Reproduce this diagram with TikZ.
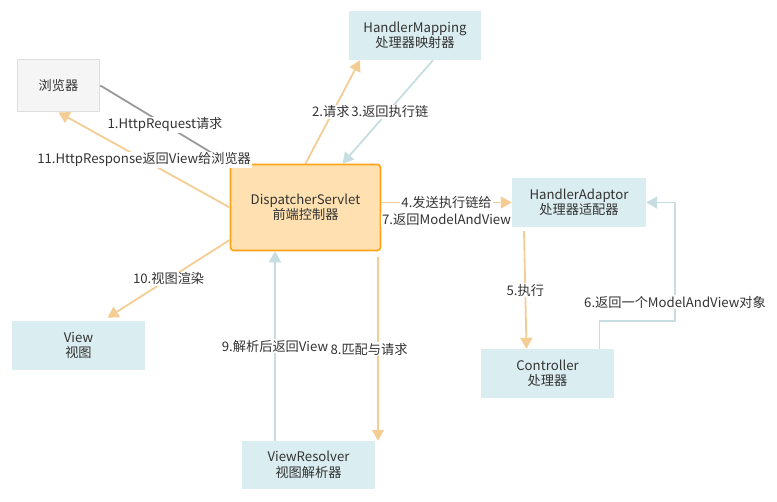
\documentclass[tikz,border=0pt]{standalone}
\usepackage{fontspec}
\setmainfont{Noto Sans CJK SC}
\usepackage{xcolor}
\usetikzlibrary{
  arrows.meta,
  positioning
}
\definecolor{boxblue}{HTML}{DAEDF0}
\definecolor{servletfill}{HTML}{FFE0B0}
\definecolor{servletline}{HTML}{FFA31A}
\definecolor{fwdline}{HTML}{F3CD93}
\definecolor{backline}{HTML}{C6DDE1}
\definecolor{txt}{HTML}{333333}

\begin{document}
\begin{tikzpicture}[x=1pt, y=-1pt,
    every node/.style = {text=txt, align=center,
      font=\fontsize{13.2}{15.5}\selectfont},
    box/.style = {shape=rectangle, fill=boxblue,
      minimum width=133pt, minimum height=49pt},
    servlet/.style = {box, fill=servletfill, draw=servletline,
      line width=1.6pt, rounded corners=3pt,
      minimum width=150pt, minimum height=86pt},
    browserbox/.style = {box, fill=black!4, draw=black!13,
      line width=1.6pt, minimum width=82pt, minimum height=52pt},
    lbl/.style = {fill=white, inner sep=1pt},
    fwd/.style = {draw=fwdline, line width=1.8pt,
      -{Triangle[length=11pt,width=12pt]}},
    back/.style = {fwd, draw=backline}]
  \useasboundingbox (0,0) rectangle (777,502);

  % boxes
  \node[browserbox] (browser) at (58.5,85.5) {浏览器};
  \node[box, minimum width=132pt] (mapping) at (415,35.5)
    {HandlerMapping\\处理器映射器};
  \node[servlet] (dispatcher) at (305.5,207.5)
    {DispatcherServlet\\前端控制器};
  \node[box, minimum width=134pt] (adaptor) at (579,202.5)
    {HandlerAdaptor\\处理器适配器};
  \node[box] (controller) at (547.5,373.5) {Controller\\处理器};
  \node[box] (view) at (78.5,345.5) {View\\视图};
  \node[box, minimum height=48pt] (resolver) at (308.5,465)
    {ViewResolver\\视图解析器};
  \coordinate (turn) at (675,321);

  % request / response with the browser
  \draw[fwd, draw=black!40] (browser.east) --
    node[lbl] {1.HttpRequest请求} (dispatcher.north west);
  \draw[fwd] (dispatcher.west) --
    node[lbl] {11.HttpResponse返回View给浏览器} (browser.south);

  % handler mapping
  \draw[fwd] (dispatcher.north) --
    node[lbl, xshift=-2pt] {2.请求} ([xshift=-55pt]mapping.south);
  \draw[back] ([xshift=18pt]mapping.south) --
    node[lbl, xshift=2pt] {3.返回执行链} ([xshift=37pt]dispatcher.north);

  % handler adaptor and controller
  \draw[fwd] (dispatcher.east |- adaptor.west) --
    node[lbl] {4.发送执行链给} (adaptor.west);
  \draw[back] ([yshift=-17.5pt]adaptor.west) --
    node[lbl] {7.返回ModelAndView}
    ([yshift=-17.5pt]adaptor.west -| dispatcher.east);
  \draw[fwd] ([xshift=-55pt,yshift=-4pt]adaptor.south) --
    node[lbl] {5.执行} ([xshift=-21pt]controller.north);
  \draw[back] ([xshift=52pt]controller.north) |- (turn) --
    node[lbl, pos=0.16] {6.返回一个ModelAndView对象}
    (turn |- adaptor.east) -- (adaptor.east);

  % view resolver and view
  \draw[fwd] ([xshift=72.5pt,yshift=-6pt]dispatcher.south) --
    node[lbl, xshift=-9pt] {8.匹配与请求}
    ([xshift=72.5pt]dispatcher.south |- resolver.north);
  \draw[back] ([xshift=-33.5pt]resolver.north) --
    node[lbl] {9.解析后返回View}
    ([xshift=-33.5pt]resolver.north |- dispatcher.south);
  \draw[fwd] ([yshift=-32.5pt]dispatcher.west) --
    node[lbl] {10.视图渲染} ([xshift=29pt,yshift=3pt]view.north);
\end{tikzpicture}
\end{document}
